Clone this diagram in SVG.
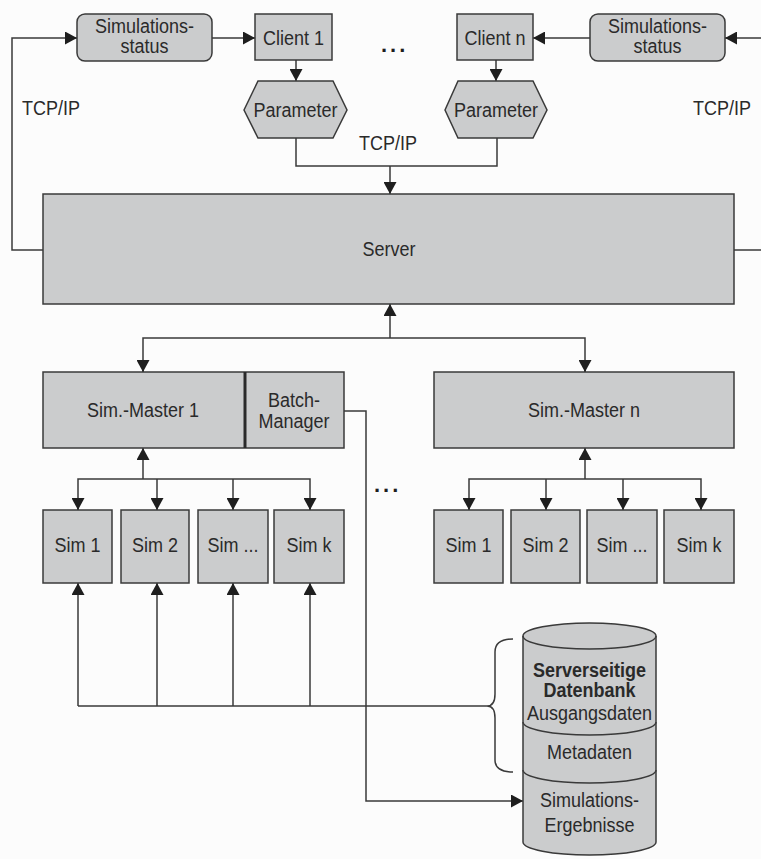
<svg xmlns="http://www.w3.org/2000/svg" width="761" height="859" viewBox="0 0 761 859">
  <style>
    .box { fill: #cbcccd; stroke: #3a3a3a; stroke-width: 1.5; }
    .ln { fill: none; stroke: #3a3a3a; stroke-width: 1.5; }
    .t { font-family: "Liberation Sans", Arial, sans-serif; font-size: 18px; fill: #2a2a2a; text-anchor: middle; }
    .tl { font-family: "Liberation Sans", Arial, sans-serif; font-size: 18px; fill: #2a2a2a; }
    .b { font-weight: bold; }
    .dots { font-family: "Liberation Sans", Arial, sans-serif; font-size: 22px; font-weight: bold; fill: #1e1e1e; letter-spacing: 3px; }
  </style>
  <defs>
    <marker id="arr" viewBox="0 0 12 13" refX="12" refY="6.5" markerWidth="12" markerHeight="13" markerUnits="userSpaceOnUse" orient="auto">
      <path d="M0,0 L12,6.5 L0,13 Z" fill="#1e1e1e"/>
    </marker>
  </defs>
  <rect width="761" height="859" fill="#fcfcfc"/>

  <g id="connectors">
    <!-- server to left status box -->
    <path class="ln" d="M43,250 H12 V38 H77" marker-end="url(#arr)"/>
    <!-- left status box to client 1 -->
    <path class="ln" d="M212,38 H255" marker-end="url(#arr)"/>
    <!-- server to right status box -->
    <path class="ln" d="M734,250 H761"/>
    <path class="ln" d="M761,38 H725" marker-end="url(#arr)"/>
    <path class="ln" d="M590,38 H533" marker-end="url(#arr)"/>
    <!-- clients to parameters -->
    <path class="ln" d="M296,60 V81" marker-end="url(#arr)"/>
    <path class="ln" d="M496,60 V81" marker-end="url(#arr)"/>
    <!-- parameters to server -->
    <path class="ln" d="M296,138 V166 H497 V138"/>
    <path class="ln" d="M390,166 V194" marker-end="url(#arr)"/>
    <!-- server and masters -->
    <path class="ln" d="M390,338 V304" marker-end="url(#arr)"/>
    <path class="ln" d="M143,372 V338 H585 V372" />
    <path class="ln" d="M143,360 V372" marker-end="url(#arr)"/>
    <path class="ln" d="M585,360 V372" marker-end="url(#arr)"/>
    <!-- master 1 and sims -->
    <path class="ln" d="M143,479 V448" marker-end="url(#arr)"/>
    <path class="ln" d="M78,510 V479 H310 V510"/>
    <path class="ln" d="M78,498 V510" marker-end="url(#arr)"/>
    <path class="ln" d="M157,479 V510" marker-end="url(#arr)"/>
    <path class="ln" d="M233,479 V510" marker-end="url(#arr)"/>
    <path class="ln" d="M310,498 V510" marker-end="url(#arr)"/>
    <!-- master n and sims -->
    <path class="ln" d="M585,479 V448" marker-end="url(#arr)"/>
    <path class="ln" d="M469,510 V479 H701 V510"/>
    <path class="ln" d="M469,498 V510" marker-end="url(#arr)"/>
    <path class="ln" d="M546,479 V510" marker-end="url(#arr)"/>
    <path class="ln" d="M623,479 V510" marker-end="url(#arr)"/>
    <path class="ln" d="M701,498 V510" marker-end="url(#arr)"/>
    <!-- database input to sims -->
    <path class="ln" d="M78,706 H487"/>
    <path class="ln" d="M78,706 V583" marker-end="url(#arr)"/>
    <path class="ln" d="M157,706 V583" marker-end="url(#arr)"/>
    <path class="ln" d="M233,706 V583" marker-end="url(#arr)"/>
    <path class="ln" d="M310,706 V583" marker-end="url(#arr)"/>
    <!-- brace -->
    <path class="ln" d="M513,639 Q495,639 495,652 V694 Q495,706 487,706 Q495,706 495,718 V760 Q495,772 513,772"/>
    <!-- batch manager to results -->
    <path class="ln" d="M344,411 H366 V801 H523" marker-end="url(#arr)"/>
  </g>

  <g id="status-left">
    <rect class="box" x="77" y="14" width="135" height="47" rx="8"/>
    <text class="t" transform="scale(1,1.1)" x="144.5" y="30">Simulations-</text>
    <text class="t" transform="scale(1,1.1)" x="144.5" y="48.2">status</text>
  </g>
  <g id="client-1">
    <rect class="box" x="255" y="14" width="77" height="46"/>
    <text class="t" transform="scale(1,1.1)" x="293.5" y="40.9">Client 1</text>
  </g>
  <g id="client-n">
    <rect class="box" x="457" y="14" width="76" height="46"/>
    <text class="t" transform="scale(1,1.1)" x="495" y="40.9">Client n</text>
  </g>
  <g id="status-right">
    <rect class="box" x="590" y="14" width="135" height="47" rx="8"/>
    <text class="t" transform="scale(1,1.1)" x="657.5" y="30">Simulations-</text>
    <text class="t" transform="scale(1,1.1)" x="657.5" y="48.2">status</text>
  </g>
  <g id="dots-top">
    <text class="dots" x="381" y="52">...</text>
  </g>
  <g id="param-1">
    <polygon class="box" points="244,110 258,81 333,81 347,110 333,138 258,138"/>
    <text class="t" transform="scale(1,1.1)" x="295.5" y="106.4">Parameter</text>
  </g>
  <g id="param-n">
    <polygon class="box" points="445,110 458,81 533,81 547,110 533,138 458,138"/>
    <text class="t" transform="scale(1,1.1)" x="496" y="106.4">Parameter</text>
  </g>
  <g id="labels-tcp">
    <text class="tl" transform="scale(1,1.1)" x="22" y="104.5">TCP/IP</text>
    <text class="tl" transform="scale(1,1.1)" x="693" y="104.5">TCP/IP</text>
    <text class="t" transform="scale(1,1.1)" x="388" y="136.4">TCP/IP</text>
  </g>
  <g id="server">
    <rect class="box" x="43" y="194" width="691" height="110"/>
    <text class="t" transform="scale(1,1.1)" x="389" y="232.7">Server</text>
  </g>
  <g id="master-1">
    <rect class="box" x="43" y="372" width="301" height="76"/>
    <line x1="245" y1="372" x2="245" y2="448" stroke="#2a2a2a" stroke-width="3"/>
    <text class="t" transform="scale(1,1.1)" x="143" y="379.1">Sim.-Master 1</text>
    <text class="t" transform="scale(1,1.1)" x="294" y="370">Batch-</text>
    <text class="t" transform="scale(1,1.1)" x="294" y="389.1">Manager</text>
  </g>
  <g id="master-n">
    <rect class="box" x="434" y="372" width="300" height="76"/>
    <text class="t" transform="scale(1,1.1)" x="584" y="379.1">Sim.-Master n</text>
  </g>
  <g id="dots-mid">
    <text class="dots" x="374" y="492">...</text>
  </g>
  <g id="sims-1">
    <rect class="box" x="43" y="510" width="69" height="73"/>
    <rect class="box" x="121" y="510" width="68" height="73"/>
    <rect class="box" x="198" y="510" width="70" height="73"/>
    <rect class="box" x="274" y="510" width="70" height="73"/>
    <text class="t" transform="scale(1,1.1)" x="77.5" y="501.8">Sim 1</text>
    <text class="t" transform="scale(1,1.1)" x="155" y="501.8">Sim 2</text>
    <text class="t" transform="scale(1,1.1)" x="233" y="501.8">Sim ...</text>
    <text class="t" transform="scale(1,1.1)" x="309" y="501.8">Sim k</text>
  </g>
  <g id="sims-n">
    <rect class="box" x="434" y="510" width="69" height="73"/>
    <rect class="box" x="511" y="510" width="69" height="73"/>
    <rect class="box" x="587" y="510" width="70" height="73"/>
    <rect class="box" x="664" y="510" width="70" height="73"/>
    <text class="t" transform="scale(1,1.1)" x="468.5" y="501.8">Sim 1</text>
    <text class="t" transform="scale(1,1.1)" x="545.5" y="501.8">Sim 2</text>
    <text class="t" transform="scale(1,1.1)" x="622" y="501.8">Sim ...</text>
    <text class="t" transform="scale(1,1.1)" x="699" y="501.8">Sim k</text>
  </g>
  <g id="database">
    <path class="box" d="M523,636 A66.5,13 0 0 1 656,636 V842 A66.5,13 0 0 1 523,842 Z"/>
    <path class="ln" d="M523,636 A66.5,13 0 0 0 656,636"/>
    <path class="ln" d="M523,722 A66.5,13 0 0 0 656,722"/>
    <path class="ln" d="M523,770 A66.5,13 0 0 0 656,770"/>
    <text class="t b" transform="scale(1,1.1)" x="589.5" y="615.5">Serverseitige</text>
    <text class="t b" transform="scale(1,1.1)" x="589.5" y="633.6">Datenbank</text>
    <text class="t" transform="scale(1,1.1)" x="589.5" y="654.5">Ausgangsdaten</text>
    <text class="t" transform="scale(1,1.1)" x="589.5" y="690">Metadaten</text>
    <text class="t" transform="scale(1,1.1)" x="589.5" y="733.6">Simulations-</text>
    <text class="t" transform="scale(1,1.1)" x="589.5" y="756.4">Ergebnisse</text>
  </g>
</svg>
